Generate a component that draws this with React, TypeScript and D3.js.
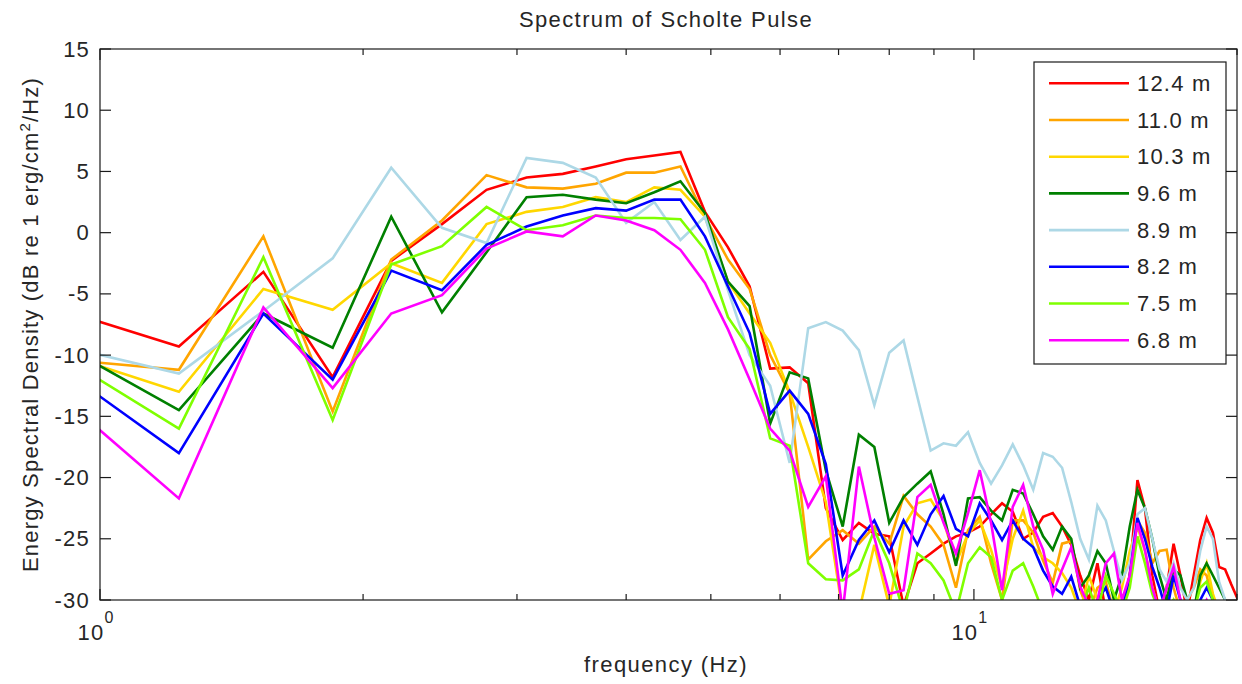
import React from "react";
import * as d3 from "d3";

const freqs = [
  0.923, 1.231, 1.538, 1.846, 2.154, 2.462, 2.769, 3.077, 3.385, 3.692, 4.0, 4.308, 4.615, 4.923, 5.231, 5.538,
  5.846, 6.154, 6.462, 6.769, 7.077, 7.385, 7.692, 8.0, 8.308, 8.615, 8.923, 9.231, 9.538, 9.846, 10.154, 10.462,
  10.769, 11.077, 11.385, 11.692, 12.0, 12.308, 12.615, 12.923, 13.231, 13.538, 13.846, 14.154, 14.462, 14.769, 15.077, 15.385,
  15.692, 16.0, 16.308, 16.615, 16.923, 17.231, 17.538, 17.846, 18.154, 18.462, 18.769, 19.077, 19.385, 19.692, 20.0, 20.308,
];

const red124 = [
  -6.5, -9.3, -3.2, -11.8, -2.3, 0.7, 3.5, 4.5, 4.8, 5.4, 6.0, 6.3, 6.6, 1.7, -1.2, -4.4,
  -11.1, -11.0, -12.3, -22.5, -25.1, -23.7, -24.6, -24.8, -30.5, -27, -26.2, -25.4, -24.8, -24.5, -24, -23,
  -22.1, -22.8, -25, -24.5, -23.2, -22.9, -24, -25.5, -28, -30, -27, -31, -31, -31, -28, -20.2,
  -22.5, -28, -31, -29, -25.4, -28, -31, -28, -25.1, -23.3, -24.5, -27.3, -27.5, -28.7, -29.8, -31,
];
const orange110 = [
  -10.4, -11.2, -0.3, -14.6, -2.2, 1.0, 4.7, 3.7, 3.6, 4.0, 4.9, 4.9, 5.4, 1.3, -2.2, -4.6,
  -10.0, -13.1, -26.7, -25.2, -24.3, -25.4, -24.0, -25.4, -21.5, -23, -24, -25.5, -29, -24.3, -23.2, -27,
  -30, -23.5, -23.5, -24.5, -26.8, -28.6, -25.4, -25.2, -29.2, -31, -29, -28.5, -31, -31, -28, -23.5,
  -24.5, -27, -26, -25.9, -29, -31, -30, -29, -27.5, -28, -30, -31, -31, -31, -31, -31,
];
const yellow103 = [
  -10.1, -13.0, -4.6, -6.3, -2.5, -4.1, 0.7, 1.7, 2.1, 2.9, 2.5, 3.7, 3.5, 1.3, -4.0, -6.6,
  -9.0, -13.0, -17.5, -22, -31, -31, -25.5, -30.5, -24, -22.1, -21.8, -23.5, -27, -24.6, -23.5, -25.9,
  -29, -25, -22.7, -25.7, -26.5, -27, -27.8, -29, -31, -28, -30, -31, -31, -29, -26, -24,
  -26, -29, -31, -31, -30, -31, -31, -31, -28.5, -27, -29.5, -31, -31, -31, -31, -31,
];
const green96 = [
  -9.5, -14.5, -6.6, -9.4, 1.3, -6.5, -1.6, 2.9, 3.1, 2.7, 2.4, 3.3, 4.2, 1.6, -4.0, -6.0,
  -15.6, -11.4, -11.9, -19.4, -24.0, -16.5, -17.5, -23.7, -21.6, -20.5, -19.5, -23, -27.2, -21.7, -21.6, -22.7,
  -23.5, -21, -21.3, -23, -24.8, -25.9, -24, -25, -29, -28, -26, -27, -30, -28, -24, -21,
  -22.5, -25, -28, -30, -27.5, -28, -30, -31, -28, -27, -28, -29, -30, -31, -31, -31,
];
const lightblue89 = [
  -9.4, -11.5, -6.4, -2.1, 5.3, 0.4, -0.85, 6.1, 5.7, 4.5, 0.8, 2.5, -0.6, 1.3, -4.7, -10.0,
  -12.5, -18.8, -7.8, -7.3, -8.0, -9.6, -14.1, -9.8, -8.8, -13.4, -17.8, -17.2, -17.4, -16.3, -18.8, -20.5,
  -19, -17.3, -19, -21, -18, -18.3, -19.2, -22, -25, -26.7, -22.3, -23.5, -26, -28.4, -27, -23,
  -22.5, -25, -27.5, -28.5, -27, -29, -30, -29, -26, -24, -25, -28.5, -30, -31, -31, -31,
];
const blue82 = [
  -11.6, -18.0, -6.6, -12.0, -3.1, -4.7, -1.0, 0.5, 1.4, 2.0, 1.8, 2.7, 2.7, -0.3, -4.4, -8.2,
  -14.8, -12.9, -14.8, -18.9, -28, -25.1, -23.5, -26.1, -23.5, -25.5, -23, -21.5, -24.2, -24.8, -22.1, -23.5,
  -25.1, -23.5, -25, -25.7, -27.6, -28.9, -29.5, -28.1, -30.5, -31, -30, -29, -31, -31, -28, -23.3,
  -25, -27.3, -29, -31, -28, -30, -31, -31, -30, -29, -30, -31, -31, -31, -31, -31,
];
const lime75 = [
  -10.5, -16.0, -2.0, -15.3, -2.6, -1.1, 2.1, 0.2, 0.6, 1.4, 1.2, 1.2, 1.1, -1.4, -6.9, -9.5,
  -16.8, -17.4, -27, -28.3, -28.4, -27.5, -24.3, -27, -31, -26.2, -27, -28.4, -31, -27, -25.7, -26.5,
  -30, -27.6, -27, -28.9, -31, -31, -31, -31, -31, -29, -31, -28, -29.5, -31, -29, -24.8,
  -27, -29.5, -31, -31, -30, -31, -31, -31, -29, -28.5, -30, -31, -31, -31, -31, -31,
];
const magenta68 = [
  -14.0, -21.7, -6.1, -12.7, -6.6, -5.1, -1.3, 0.1, -0.3, 1.4, 1.0, 0.2, -1.4, -4.1, -7.9, -12.0,
  -16.0, -17.8, -22.4, -19.9, -31, -19.1, -24.9, -29.5, -29.2, -21.6, -20.6, -23.7, -26.2, -22.9, -19.4, -23.7,
  -29.2, -22.4, -20.6, -24, -25.9, -29.5, -27.5, -25.7, -28.9, -30.5, -30, -27, -26.2, -30, -28, -23.7,
  -25.9, -29, -31, -29, -27.3, -30, -31, -31, -31, -30, -31, -31, -31, -31, -31, -31,
];

const seriesLabels = ["12.4 m", "11.0 m", "10.3 m", "9.6 m", "8.9 m", "8.2 m", "7.5 m", "6.8 m"];
const seriesValues = [red124, orange110, yellow103, green96, lightblue89, blue82, lime75, magenta68];
const seriesColors = ["#ff0000", "#ffa500", "#ffd700", "#008000", "#add8e6", "#0000ff", "#7fff00", "#ff00ff"];

const yTicks = [-30, -25, -20, -15, -10, -5, 0, 5, 10, 15];
const xMajor = [1, 10];
const xMinor = [2, 3, 4, 5, 6, 7, 8, 9, 20];

const W = 1242;
const H = 684;
const L = 100;
const R = 1237;
const T = 49;
const B = 600;
const FONT = "'Liberation Sans', Arial, Helvetica, sans-serif";
const TXT = "#262626";

export default function App() {
  const x = d3.scaleLog().domain([1, 20]).range([L, R]);
  const y = d3.scaleLinear().domain([-30, 15]).range([B, T]);
  const line = d3
    .line<number>()
    .x((_, i) => x(freqs[i]))
    .y((d) => y(d));

  const legX = 1034;
  const legY = 62;
  const legW = 192;
  const legH = 302;
  const rowH = 36.7;

  return (
    <svg
      width={W}
      height={H}
      style={{ position: "absolute", left: 0, top: 0, background: "#fff" }}
      fontFamily={FONT}
    >
      <rect x={0} y={0} width={W} height={H} fill="#fff" />
      <defs>
        <clipPath id="plotclip">
          <rect x={L} y={T} width={R - L} height={B - T} />
        </clipPath>
      </defs>

      <g clipPath="url(#plotclip)">
        {seriesValues.map((vals, k) => (
          <path
            key={k}
            d={line(vals) || ""}
            fill="none"
            stroke={seriesColors[k]}
            strokeWidth={2.6}
            strokeLinejoin="miter"
          />
        ))}
      </g>

      {/* frame */}
      <rect x={L} y={T} width={R - L} height={B - T} fill="none" stroke="#1a1a1a" strokeWidth={1.2} />

      {/* y ticks */}
      {yTicks.map((t) => (
        <g key={"y" + t}>
          <line x1={L} x2={L + 11} y1={y(t)} y2={y(t)} stroke="#1a1a1a" strokeWidth={1.2} />
          <line x1={R} x2={R - 11} y1={y(t)} y2={y(t)} stroke="#1a1a1a" strokeWidth={1.2} />
          <text
            x={90}
            y={y(t)}
            textAnchor="end"
            dominantBaseline="central"
            fontSize={22}
            letterSpacing={1.2}
            fill={TXT}
          >
            {t}
          </text>
        </g>
      ))}

      {/* x ticks */}
      {xMajor.map((t) => (
        <g key={"xM" + t}>
          <line x1={x(t)} x2={x(t)} y1={B} y2={B - 11} stroke="#1a1a1a" strokeWidth={1.2} />
          <line x1={x(t)} x2={x(t)} y1={T} y2={T + 11} stroke="#1a1a1a" strokeWidth={1.2} />
        </g>
      ))}
      {xMinor.map((t) => (
        <g key={"xm" + t}>
          <line x1={x(t)} x2={x(t)} y1={B} y2={B - 6} stroke="#1a1a1a" strokeWidth={1.2} />
          <line x1={x(t)} x2={x(t)} y1={T} y2={T + 6} stroke="#1a1a1a" strokeWidth={1.2} />
        </g>
      ))}
      {xMajor.map((t, i) => (
        <text key={"xl" + t} x={x(t) - 4} y={640} textAnchor="middle" fontSize={22} letterSpacing={1.2} fill={TXT}>
          10
          <tspan dy={-17} fontSize={16}>
            {String(i)}
          </tspan>
        </text>
      ))}

      {/* labels */}
      <text x={666} y={672} textAnchor="middle" fontSize={22} letterSpacing={1.4} fill={TXT}>
        frequency (Hz)
      </text>
      <text x={666} y={27} textAnchor="middle" fontSize={22} letterSpacing={1.4} fill={TXT}>
        Spectrum of Scholte Pulse
      </text>
      <text
        transform={`translate(38, ${(T + B) / 2}) rotate(-90)`}
        textAnchor="middle"
        fontSize={22}
        letterSpacing={1.2}
        fill={TXT}
      >
        Energy Spectral Density (dB re 1 erg/cm
        <tspan dy={-8} fontSize={15}>
          2
        </tspan>
        <tspan dy={8}>/Hz)</tspan>
      </text>

      {/* legend */}
      <rect x={legX} y={legY} width={legW} height={legH} fill="#fff" stroke="#1a1a1a" strokeWidth={1.2} />
      {seriesLabels.map((lab, k) => {
        const cy = legY + 21.3 + k * rowH;
        return (
          <g key={"leg" + k}>
            <line x1={1049} x2={1129} y1={cy} y2={cy} stroke={seriesColors[k]} strokeWidth={2.6} />
            <text x={1137} y={cy} dominantBaseline="central" fontSize={22} letterSpacing={1.2} fill={TXT}>
              {lab}
            </text>
          </g>
        );
      })}
    </svg>
  );
}
